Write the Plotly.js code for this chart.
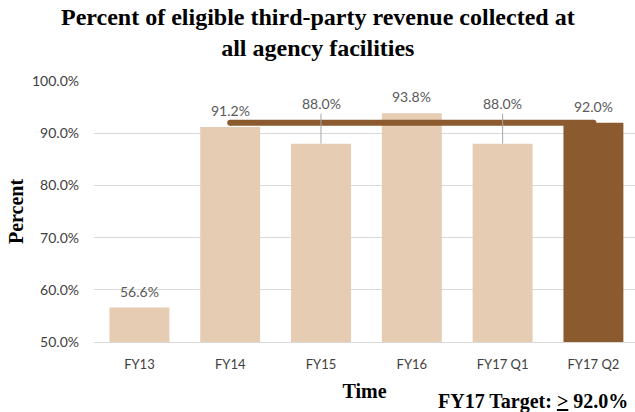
<!DOCTYPE html>
<html><head><meta charset="utf-8">
<script src="https://cdn.plot.ly/plotly-3.0.1.min.js"></script>
<style>html,body{margin:0;padding:0;background:#fff}#chart{width:635px;height:412px}</style>
</head><body><div id="chart"></div>
<script>
var categories = ['FY13','FY14','FY15','FY16','FY17 Q1','FY17 Q2'];
var values = [56.6, 91.2, 88.0, 93.8, 88.0, 92.0];
var barColors = ['#E6CCB2','#E6CCB2','#E6CCB2','#E6CCB2','#E6CCB2','#8B5A2E'];
var targetX = ['FY14','FY17 Q2'];
var targetY = [92.0, 92.0];
var leaderLabels = [false, false, true, false, true, false];
var yTicks = [50,60,70,80,90,100];

var sans = 'Lato, "Open Sans", sans-serif';
var labelFont = {family:sans, size:14, color:'#595959'};
var annotations = [];
for (var i=0;i<categories.length;i++){
  if (leaderLabels[i]) {
    annotations.push({x:categories[i], y:values[i], text:values[i].toFixed(1)+'%',
      showarrow:true, arrowhead:0, arrowwidth:1, arrowcolor:'#A6A6A6', ax:0, ay:-40,
      font:labelFont, standoff:0});
  } else {
    annotations.push({x:categories[i], y:values[i], text:values[i].toFixed(1)+'%',
      showarrow:false, yanchor:'bottom', yshift:6, font:labelFont});
  }
}
var serif = '"Liberation Serif", "DejaVu Serif", serif';
annotations.push({xref:'paper', yref:'paper', x:(318-94)/541, y:1.184, xanchor:'center', yanchor:'middle',
  text:'<b>Percent of eligible third-party revenue collected at<br>all agency facilities</b>',
  showarrow:false, font:{family:serif, size:24, color:'#000'}});
annotations.push({xref:'paper', yref:'paper', x:(630-94)/541, y:-0.228, xanchor:'right', yanchor:'middle',
  text:'<b>FY17 Target: <u>&gt;</u> 92.0%</b>', showarrow:false, font:{family:serif, size:20, color:'#000'}});

var data = [
  {type:'bar', x:categories, y:values, marker:{color:barColors}, hoverinfo:'none'},
  {type:'scatter', mode:'lines+markers', x:targetX, y:targetY,
   line:{color:'#8B5A2E', width:6}, marker:{color:'#8B5A2E', size:6}, hoverinfo:'none'}
];
var layout = {
  width:635, height:412,
  margin:{l:94, r:0, t:81, b:70},
  paper_bgcolor:'#fff', plot_bgcolor:'#fff',
  showlegend:false,
  bargap:0.34,
  xaxis:{type:'category', range:[-0.5,5.458], showgrid:false, showline:true, linecolor:'#D9D9D9', linewidth:1,
    ticks:'', ticklabelstandoff:10, tickfont:{family:sans, size:13, color:'#404040'},
    title:{text:'<b>Time</b>', font:{family:serif, size:20, color:'#000'}, standoff:13}},
  yaxis:{range:[50,100], tickvals:yTicks, ticktext:yTicks.map(function(v){return v.toFixed(1)+'%';}),
    showgrid:true, gridcolor:'#D9D9D9', zeroline:false, showline:false, ticks:'', ticklen:0,
    ticklabelstandoff:14,
    tickfont:{family:sans, size:14, color:'#404040'},
    title:{text:'<b>Percent</b>', font:{family:serif, size:20, color:'#000'}, standoff:2}},
  annotations:annotations
};
Plotly.newPlot('chart', data, layout, {displayModeBar:false, staticPlot:true});
</script></body></html>
